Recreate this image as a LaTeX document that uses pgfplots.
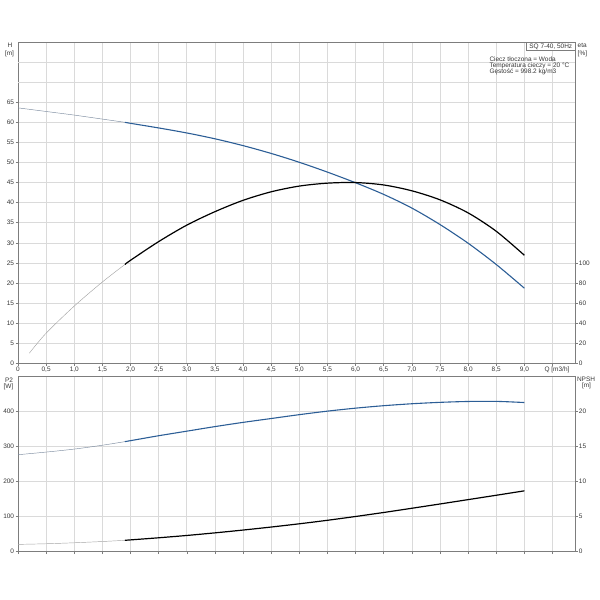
\documentclass[border=0pt]{standalone}
\usepackage{pgfplots}
\pgfplotsset{compat=1.18}
\usepackage{fontspec}
\setmainfont{Liberation Sans}
\definecolor{cblue}{RGB}{44,94,150}
\definecolor{gridc}{RGB}{218,218,218}
\definecolor{axc}{RGB}{125,125,125}
\definecolor{txt}{RGB}{55,55,55}
\definecolor{thinblue}{RGB}{125,140,160}
\definecolor{thingray}{RGB}{165,165,165}
\newcommand{\sm}{\fontsize{6.5}{7.5}\selectfont}
\pgfplotsset{
  base/.style={
    scale only axis, anchor=south west, width=557bp,
    xmin=0, xmax=9.9,
    /pgf/number format/assume math mode=true,
    tick label style={font=\sm, text=txt, inner sep=1.2bp},
    axis line style={axc, line width=0.6bp},
    tick style={axc, line width=0.5bp},
    tick align=outside, major tick length=2.5bp,
    grid style={gridc, line width=0.6bp},
  }
}
\begin{document}
\begin{tikzpicture}[x=1bp,y=1bp]
\path[use as bounding box] (0,0) rectangle (600,600);
% ---------- top panel: H ----------
\begin{axis}[base, at={(18bp,236.7bp)}, height=321.3bp, ymin=0, ymax=80,
  xtick={0,0.5,...,9.0},
  xticklabels={0,{0,5},{1,0},{1,5},{2,0},{2,5},{3,0},{3,5},{4,0},{4,5},{5,0},{5,5},{6,0},{6,5},{7,0},{7,5},{8,0},{8,5},{9,0}},
  extra x ticks={9.5}, extra x tick labels={Q [m3/h]},
  extra x tick style={grid=major, xticklabel style={xshift=4.5bp}},
  ytick={0,5,...,65}, extra y ticks={70,75}, extra y tick labels={},
  extra y tick style={grid=major, major tick length=0pt},
  grid=major, xtick pos=bottom, ytick pos=left]
\addplot[thinblue, line width=0.45bp, smooth] coordinates {
 (0,63.6)(0.5,62.7)(1.0,61.8)(1.5,60.8)(1.9,60.0)};
\addplot[cblue, line width=1.1bp, smooth] coordinates {
 (1.9,60.0)(2.0,59.75)(2.5,58.6)(3.0,57.35)(3.5,55.9)(4.0,54.2)(4.5,52.25)
 (5.0,50.05)(5.5,47.6)(6.0,44.95)(6.5,42.05)(7.0,38.65)(7.5,34.55)(8.0,29.9)
 (8.5,24.6)(9.0,18.7)};
\end{axis}
% ---------- top panel: eta ----------
\begin{axis}[base, at={(18bp,236.7bp)}, height=321.3bp, ymin=0, ymax=320,
  hide x axis, axis y line*=right, ytick={0,20,...,100}]
\addplot[thingray, line width=0.45bp, smooth] coordinates {
 (0.2,10.0)(0.5,30.0)(1.0,57.0)(1.5,81.0)(1.9,98.4)};
\addplot[black, line width=1.2bp, smooth] coordinates {
 (1.9,98.4)(2.0,102.6)(2.5,121.2)(3.0,137.6)(3.5,151.0)(4.0,162.3)(4.5,170.8)
 (5.0,176.5)(5.5,179.4)(6.0,180.0)(6.5,177.6)(7.0,171.8)(7.5,162.8)(8.0,149.8)
 (8.5,131.5)(9.0,107.6)};
\end{axis}
% ---------- bottom panel: P2 ----------
\begin{axis}[base, at={(18bp,48.3bp)}, height=175.7bp, ymin=0, ymax=500,
  xtick={0,0.5,...,9.5}, xticklabels={}, ytick={0,100,...,400},
  grid=major, xtick pos=bottom, ytick pos=left]
\addplot[thinblue, line width=0.45bp, smooth] coordinates {
 (0,276)(0.5,283.5)(1.0,292)(1.5,303)(1.9,313.2)};
\addplot[cblue, line width=1.1bp, smooth] coordinates {
 (1.9,313.2)(2.0,316)(2.5,330)(3.0,343)(3.5,356)(4.0,368)(4.5,379)(5.0,390)
 (5.5,400)(6.0,408.5)(6.5,415.5)(7.0,421)(7.5,425)(8.0,427.5)(8.5,427.8)(9.0,424.5)};
\end{axis}
% ---------- bottom panel: NPSH ----------
\begin{axis}[base, at={(18bp,48.3bp)}, height=175.7bp, ymin=0, ymax=25,
  hide x axis, axis y line*=right, ytick={0,5,...,20}]
\addplot[thingray, line width=0.45bp, smooth] coordinates {
 (0,1.04)(0.5,1.13)(1.0,1.27)(1.5,1.45)(1.9,1.62)};
\addplot[black, line width=1.2bp, smooth] coordinates {
 (1.9,1.62)(2.0,1.68)(2.5,1.98)(3.0,2.31)(3.5,2.68)(4.0,3.08)(4.5,3.51)
 (5.0,3.97)(5.5,4.47)(6.0,5.01)(6.5,5.58)(7.0,6.18)(7.5,6.79)(8.0,7.41)
 (8.5,8.03)(9.0,8.66)};
\end{axis}
% ---------- labels ----------
\begin{scope}[every node/.style={font=\sm, text=txt, inner sep=0pt}]
\node at (10,554.3) {H};
\node at (9.5,545.7) {[m]};
\node[anchor=west] at (577.5,554.3) {eta};
\node[anchor=west] at (577.5,546) {[\%]};
\node at (9,219.3) {P2};
\node at (8.5,213.3) {[W]};
\node at (586,221) {NPSH};
\node at (586.5,214.3) {[m]};
\draw[axc, line width=0.5bp, fill=white] (526.7,549.3) rectangle (575,557.7);
\node at (550.8,553.5) {SQ 7-40, 50Hz};
\node[anchor=west] at (489.3,540.7) {Ciecz tłoczona = Woda};
\node[anchor=west] at (489.3,534.2) {Temperatura cieczy = 20 °C};
\node[anchor=west] at (489.3,527.7) {Gęstość = 998.2 kg/m3};
\end{scope}
\end{tikzpicture}
\end{document}
